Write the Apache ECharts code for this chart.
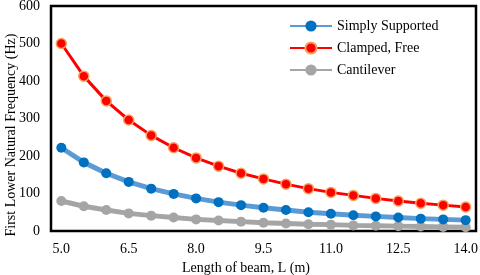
<!DOCTYPE html>
<html>
<head>
<meta charset="utf-8">
<script src="https://cdn.jsdelivr.net/npm/echarts@6/dist/echarts.min.js"></script>
<style>html,body{margin:0;padding:0;background:#fff}#c{width:480px;height:275px}</style>
</head>
<body>
<div id="c"></div>
<script>
var lengths = [5.0, 5.5, 6.0, 6.5, 7.0, 7.5, 8.0, 8.5, 9.0, 9.5, 10.0, 10.5, 11.0, 11.5, 12.0, 12.5, 13.0, 13.5, 14.0];
var simplySupported = [222, 183, 154, 131, 113, 99, 87, 77, 69, 62, 56, 50, 46, 42, 39, 36, 33, 31, 29];
var clampedFree = [500, 413, 347, 296, 255, 222, 195, 173, 154, 139, 125, 113, 103, 95, 87, 80, 74, 69, 64];
var cantilever = [80, 66, 56, 47, 41, 36, 31, 28, 25, 22, 20, 18, 17, 15, 14, 13, 12, 11, 10];
var xTicks = [5.0, 6.5, 8.0, 9.5, 11.0, 12.5, 14.0];
var seriesNames = ['Simply Supported', 'Clamped, Free', 'Cantilever'];
var yTitle = 'First Lower Natural Frequency (Hz)';
var xTitle = 'Length of beam, L (m)';

function pairs(vals) { return lengths.map(function (l, i) { return [l, vals[i]]; }); }
var font = "'Liberation Serif', 'Times New Roman', serif";
var chart = echarts.init(document.getElementById('c'), null, { renderer: 'canvas' });
chart.setOption({
  animation: false,
  backgroundColor: '#fff',
  textStyle: { fontFamily: font },
  grid: { left: 51, top: 6, right: 4, bottom: 44, containLabel: false, outerBoundsMode: 'none',
    show: true, borderColor: '#000', borderWidth: 2.5, backgroundColor: 'transparent' },
  legend: {
    orient: 'vertical', left: 284, top: 14, itemWidth: 42, itemHeight: 14, itemGap: 8,
    textStyle: { fontFamily: font, fontSize: 14, color: '#000' },
    data: seriesNames
  },
  graphic: [{
    type: 'text', x: 11, y: 135, rotation: Math.PI / 2,
    style: { text: yTitle, fontFamily: font, fontSize: 14, fill: '#000', align: 'center', verticalAlign: 'middle' }
  }],
  xAxis: {
    type: 'value', min: 4.77, max: 14.23,
    name: xTitle, nameLocation: 'middle', nameGap: 27,
    nameTextStyle: { fontFamily: font, fontSize: 14, color: '#000', padding: [0, 35, 0, 0] },
    axisLine: { show: false }, axisTick: { show: false }, splitLine: { show: false },
    axisLabel: { customValues: xTicks, fontFamily: font, fontSize: 14, color: '#000', margin: 11,
      formatter: function (v) { return Number(v).toFixed(1); } }
  },
  yAxis: {
    type: 'value', min: 0, max: 600, interval: 100,
    axisLine: { show: false }, axisTick: { show: false }, splitLine: { show: false },
    axisLabel: { fontFamily: font, fontSize: 14, color: '#000', margin: 11 }
  },
  series: [
    { name: seriesNames[0], type: 'line', data: pairs(simplySupported), symbol: 'circle', symbolSize: 10,
      lineStyle: { color: '#5B9BD5', width: 5 }, itemStyle: { color: '#0070C0', borderWidth: 0 }, z: 2 },
    { name: seriesNames[1], type: 'line', data: pairs(clampedFree), symbol: 'circle', symbolSize: 10,
      lineStyle: { color: '#FF0000', width: 3 }, itemStyle: { color: '#FF0000', borderColor: '#F7A35C', borderWidth: 1.5 }, z: 3 },
    { name: seriesNames[2], type: 'line', data: pairs(cantilever), symbol: 'circle', symbolSize: 10,
      lineStyle: { color: '#A5A5A5', width: 5 }, itemStyle: { color: '#A5A5A5', borderWidth: 0 }, z: 1 }
  ]
});
</script>
</body>
</html>
